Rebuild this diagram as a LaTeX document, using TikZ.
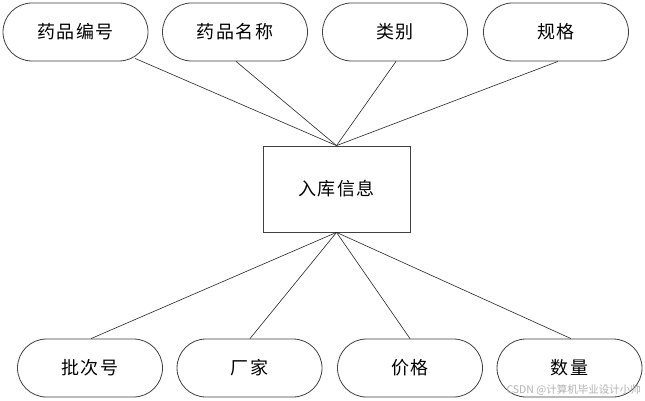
\documentclass[tikz,border=0pt]{standalone}
\usepackage{fontspec}
\newfontfamily\cjk[LetterSpace=8]{Noto Sans CJK SC}
\newfontfamily\cjkwm{Noto Sans CJK SC}
\usetikzlibrary{calc}
\begin{document}
\begin{tikzpicture}[x=1pt,y=-1pt,
  attr/.style={draw=black!75, line width=0.8pt, rounded corners=29pt, minimum width=145pt, minimum height=58pt, inner sep=0pt, font=\cjk\fontsize{18}{21}\selectfont},
  ent/.style={draw=black!75, line width=0.8pt, minimum width=147pt, minimum height=86pt, inner sep=0pt, font=\cjk\fontsize{18}{21}\selectfont},
  conn/.style={draw=black!85, line width=0.6pt}]
\useasboundingbox (0,0) rectangle (645,401);
\fill[white] (0,0) rectangle (645,401);
% entity
\node[ent] (r) at (336.5,189) {入库信息};
% top attributes
\node[attr] (a1) at (75.5,32) {药品编号};
\node[attr] (a2) at (235,32) {药品名称};
\node[attr] (a3) at (395,32) {类别};
\node[attr] (a4) at (556,32) {规格};
% bottom attributes
\node[attr] (b1) at (90,368) {批次号};
\node[attr] (b2) at (249.5,368) {厂家};
\node[attr] (b3) at (410,368) {价格};
\node[attr] (b4) at (569.5,368) {数量};
% connector end points on the attribute borders
\coordinate (p1) at ($(a1.south)+(59.5,-3)$);
\coordinate (p2) at ($(a2.south)+(1,0)$);
\coordinate (p3) at ($(a3.south)+(1,0)$);
\coordinate (p4) at ($(a4.south)+(2,0)$);
\coordinate (q1) at ($(b1.north)+(1,0)$);
\coordinate (q2) at ($(b2.north)+(0.5,0)$);
\coordinate (q3) at ($(b3.north)+(0,0)$);
\coordinate (q4) at ($(b4.north)+(1.5,0)$);
\foreach \i in {1,2,3,4} {
  \draw[conn] (p\i) -- (r.north);
  \draw[conn] (q\i) -- (r.south);
}
% watermark
\node[anchor=east, inner sep=0pt, text=black!30, font=\cjkwm\fontsize{10.5}{12}\selectfont] (wm) at (641,390) {CSDN @计算机毕业设计小帅};
\end{tikzpicture}
\end{document}
